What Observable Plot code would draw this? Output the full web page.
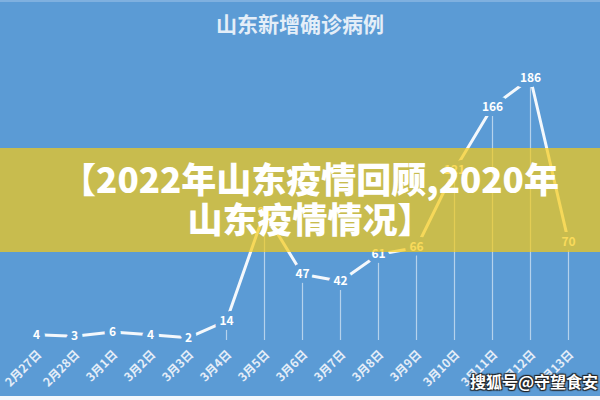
<!DOCTYPE html>
<html>
<head>
<meta charset="utf-8">
<script src="https://cdn.jsdelivr.net/npm/d3@7"></script>
<script src="https://cdn.jsdelivr.net/npm/@observablehq/plot@0.6"></script>
<style>
  html, body { margin: 0; padding: 0; }
  body { width: 600px; height: 400px; overflow: hidden; }
  #wrap { position: relative; width: 600px; height: 400px; background: #5b9bd5; overflow: hidden;
          font-family: "Noto Sans CJK SC", "Noto Sans", sans-serif; }
  #title { position: absolute; top: 8px; left: 0; width: 600px; text-align: center;
           font-size: 21px; font-weight: 700; color: #e4eef8; }
  #chart { position: absolute; top: 45px; left: 0; }
  #band { position: absolute; left: 0; top: 148px; width: 600px; height: 104px;
          background: rgba(247, 202, 20, 0.7); }
  #bandtext { position: absolute; left: 20px; top: 158px; width: 580px; text-align: center;
              font-size: 35px; font-weight: 900; color: #ffffff; line-height: 40px; }
  #wm { position: absolute; right: 2px; top: 369px; font-size: 16px; font-weight: 700; color: #ffffff;
        text-shadow: 1px 1px 1px #222, -1px -1px 1px #222, 1px -1px 1px #222, -1px 1px 1px #222; }
  #topline { position: absolute; left: 0; top: 0; width: 600px; height: 2px; background: #7fb0df; }
  #bottom { position: absolute; left: 0; top: 396px; width: 600px; height: 4px; background: #f4f8fc; }
</style>
</head>
<body>
<div id="wrap">
  <div id="topline"></div>
  <div id="title"></div>
  <div id="chart"></div>
  <div id="band"></div>
  <div id="bandtext"></div>
  <div id="wm"></div>
  <div id="bottom"></div>
</div>
<script>
const titleText = "山东新增确诊病例";
const dates = ["2月27日","2月28日","3月1日","3月2日","3月3日","3月4日","3月5日","3月6日","3月7日","3月8日","3月9日","3月10日","3月11日","3月12日","3月13日"];
const values = [4, 3, 6, 4, 2, 14, 91, 47, 42, 61, 66, 121, 166, 186, 70];
const bannerLines = ["【2022年山东疫情回顾,2020年", "山东疫情情况】"];
const watermark = "搜狐号@守望食安";

document.getElementById("title").textContent = titleText;
document.getElementById("bandtext").innerHTML = bannerLines.map(s => "<div>" + s + "</div>").join("");
document.getElementById("wm").textContent = watermark;

const data = dates.map((d, i) => ({date: d, value: values[i]}));
const bg = "#5b9bd5";

const chart = Plot.plot({
  width: 600,
  height: 355,
  marginTop: 33,
  marginBottom: 60,
  marginLeft: 30,
  marginRight: 27,
  style: {background: "transparent", fontFamily: "'Noto Sans CJK SC', 'Noto Sans', sans-serif", overflow: "visible"},
  x: {type: "point", domain: dates, padding: 0, axis: null},
  y: {domain: [0, 186], axis: null},
  marks: [
    Plot.ruleX(data, {x: "date", y1: 0, y2: "value", stroke: "#ffffff", strokeOpacity: 0.55, strokeWidth: 1.2}),
    Plot.line(data, {x: "date", y: "value", stroke: "#f4f8fc", strokeWidth: 3}),
    Plot.text(data, {x: "date", y: "value", text: d => String(d.value), fill: "#ffffff", stroke: bg, strokeWidth: 10, fontSize: 12, fontWeight: 600}),
    Plot.text(data, {x: "date", text: "date", frameAnchor: "bottom", dy: 12, dx: 3, rotate: -45, textAnchor: "end", lineAnchor: "middle", fill: "#e4edf8", fontSize: 12, fontWeight: 600})
  ]
});
document.getElementById("chart").appendChild(chart);
</script>
</body>
</html>
